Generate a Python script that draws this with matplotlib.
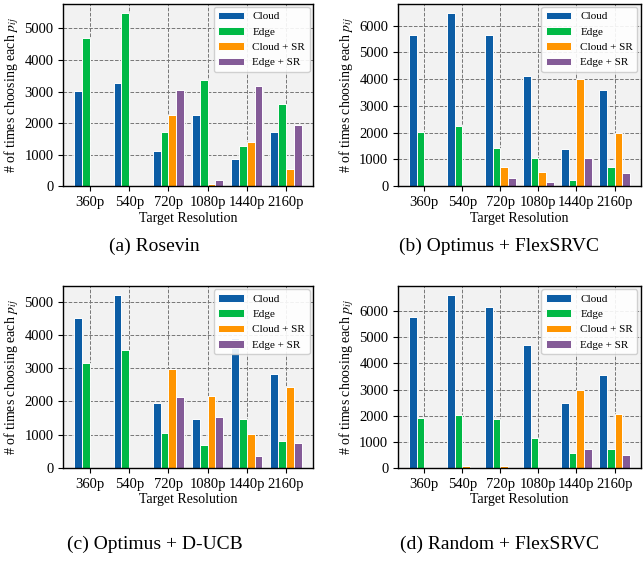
import numpy as np
import matplotlib
matplotlib.use('Agg')
import matplotlib.pyplot as plt
from matplotlib.ticker import MultipleLocator

plt.rcParams['font.family'] = 'serif'
plt.rcParams['font.serif'] = ['Liberation Serif', 'DejaVu Serif']
plt.rcParams['mathtext.fontset'] = 'stix'

# Target resolutions and legend labels
resolutions = ['360p', '540p', '720p', '1080p', '1440p', '2160p']
options = ['Cloud', 'Edge', 'Cloud + SR', 'Edge + SR']
colors = ['#0C5DA5', '#00B945', '#FF9500', '#845B97']

# (a) Rosevin
rosevin_cloud = [3030, 3270, 1120, 2250, 860, 1715]
rosevin_edge = [4680, 5500, 1705, 3370, 1290, 2620]
rosevin_cloud_sr = [0, 0, 2270, 85, 1405, 555]
rosevin_edge_sr = [0, 0, 3060, 190, 3180, 1940]

# (b) Optimus + FlexSRVC
opt_flex_cloud = [5660, 6490, 5670, 4125, 1380, 3585]
opt_flex_edge = [2025, 2265, 1447, 1057, 250, 717]
opt_flex_cloud_sr = [0, 0, 717, 515, 4025, 2000]
opt_flex_edge_sr = [0, 0, 290, 150, 1044, 503]

# (c) Optimus + D-UCB
opt_ducb_cloud = [4526, 5212, 1966, 1482, 3900, 2833]
opt_ducb_edge = [3165, 3558, 1058, 685, 1462, 796]
opt_ducb_cloud_sr = [0, 0, 2964, 2177, 1030, 2440]
opt_ducb_edge_sr = [0, 0, 2127, 1532, 343, 756]

# (d) Random + FlexSRVC
rand_flex_cloud = [5782, 6628, 6167, 4705, 2500, 3564]
rand_flex_edge = [1910, 2025, 1872, 1128, 564, 718]
rand_flex_cloud_sr = [0, 64, 64, 0, 2974, 2064]
rand_flex_edge_sr = [0, 0, 0, 0, 705, 474]

panels = [
    ('(a) Rosevin', [rosevin_cloud, rosevin_edge, rosevin_cloud_sr, rosevin_edge_sr]),
    ('(b) Optimus + FlexSRVC', [opt_flex_cloud, opt_flex_edge, opt_flex_cloud_sr, opt_flex_edge_sr]),
    ('(c) Optimus + D-UCB', [opt_ducb_cloud, opt_ducb_edge, opt_ducb_cloud_sr, opt_ducb_edge_sr]),
    ('(d) Random + FlexSRVC', [rand_flex_cloud, rand_flex_edge, rand_flex_cloud_sr, rand_flex_edge_sr]),
]

# Axes rectangles [left, bottom, width, height] and caption centres (figure fractions)
rects = [
    [0.098, 0.668, 0.388, 0.325],
    [0.618, 0.668, 0.377, 0.325],
    [0.098, 0.166, 0.388, 0.324],
    [0.618, 0.166, 0.377, 0.324],
]
captions = [(0.24, 0.56), (0.775, 0.56), (0.24, 0.03), (0.775, 0.03)]


def draw_panel(ax, series):
    """
    Draw one grouped bar chart of how often each option was chosen.

    Arguments:
        ax: axes to draw on
        series: list of four value lists (one per option)
    """
    x = np.arange(len(resolutions))
    w = 0.2
    for k, vals in enumerate(series):
        ax.bar(x + (k - 1.5) * w, vals, width=w, color=colors[k],
               edgecolor='white', linewidth=0.7, label=options[k])
    ax.set_xticks(x)
    ax.set_xticklabels(resolutions)
    ax.yaxis.set_major_locator(MultipleLocator(1000))
    ax.set_facecolor('#f2f2f2')
    ax.set_axisbelow(True)
    ax.grid(True, color='#777777', linestyle='--', linewidth=0.7)
    ax.tick_params(labelsize=10.5, length=3.5, width=0.8)
    ax.set_xlabel('Target Resolution', fontsize=10, labelpad=2)
    ax.set_ylabel(r'# of times choosing each $p_{ij}$', fontsize=10, labelpad=2)
    ax.legend(loc='upper right', fontsize=8, borderaxespad=0.3,
              handlelength=2.3, labelspacing=0.5, framealpha=0.9,
              edgecolor='#cccccc')
    for s in ax.spines.values():
        s.set_linewidth(1.0)


fig = plt.figure(figsize=[6.44, 5.61], dpi=100)
for (title, series), rect, (cx, cy) in zip(panels, rects, captions):
    ax = fig.add_axes(rect)
    draw_panel(ax, series)
    fig.text(cx, cy, title, fontsize=14, ha='center', va='center')

fig.savefig('out.png', dpi=100)
